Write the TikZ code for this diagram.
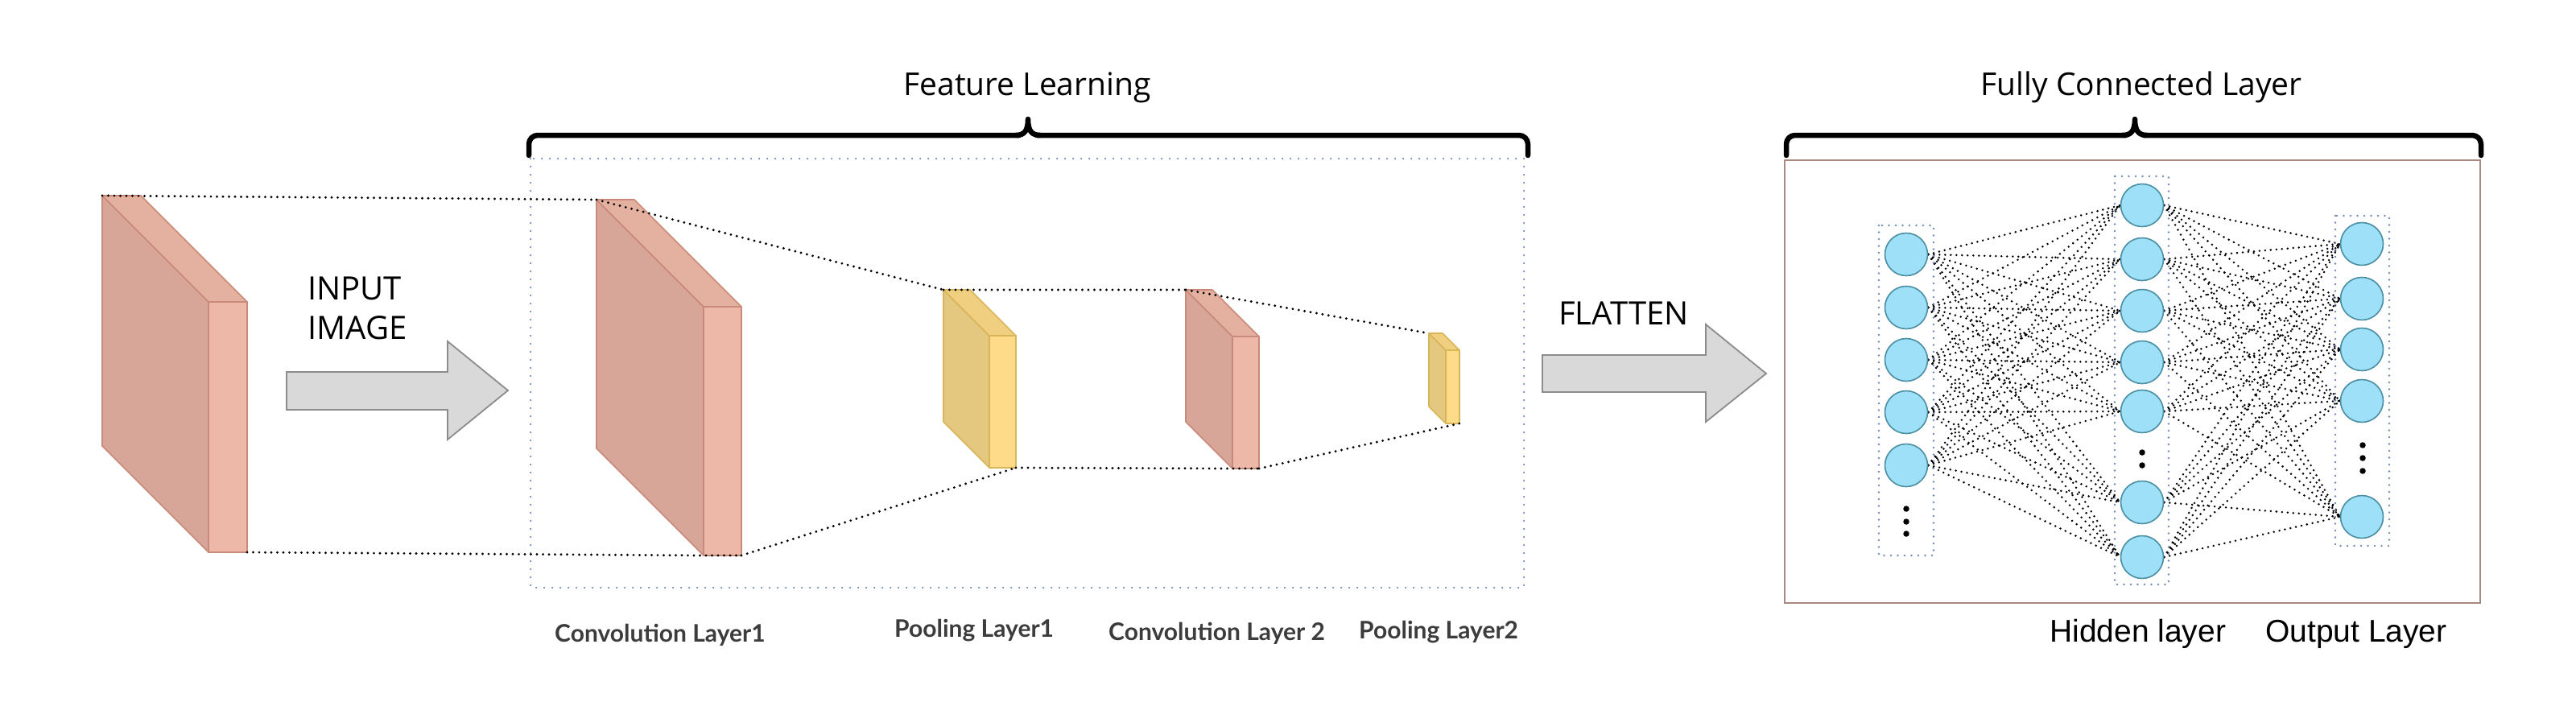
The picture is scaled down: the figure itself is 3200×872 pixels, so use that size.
\documentclass[tikz,border=0pt]{standalone}
\usepackage{fontspec}
\setmainfont{Open Sans}
\newfontfamily\latofont{Lato}
\newfontfamily\arialfont{Liberation Sans}
\definecolor{convside}{HTML}{D8A698}
\definecolor{convtop}{HTML}{E4B0A0}
\definecolor{convfront}{HTML}{EDB8A8}
\definecolor{convedge}{HTML}{C98A7A}
\definecolor{poolside}{HTML}{E5C87F}
\definecolor{pooltop}{HTML}{F0D080}
\definecolor{poolfront}{HTML}{FDDB88}
\definecolor{pooledge}{HTML}{D9B55A}
\definecolor{arrowfill}{HTML}{D9D9D9}
\definecolor{arrowedge}{HTML}{8C8C8C}
\definecolor{neuronfill}{HTML}{9EE0F7}
\definecolor{neuronedge}{HTML}{4A8FA3}
\definecolor{boxdots}{HTML}{6F89B8}
\definecolor{fcedge}{HTML}{A88A80}
\definecolor{labelgray}{HTML}{3C3C3C}
\pgfdeclarelayer{back}
\pgfdeclarelayer{bg}
\pgfsetlayers{back,bg,main}
\newcommand\slab[7]{%
  \coordinate (#1-btl) at (#2,#3);
  \coordinate (#1-btr) at ({#2+#5},#3);
  \coordinate (#1-ftl) at ({#2+#4},{#3+#4});
  \coordinate (#1-ftr) at ({#2+#4+#5},{#3+#4});
  \coordinate (#1-fbl) at ({#2+#4},{#3+#4+#6});
  \coordinate (#1-fbr) at ({#2+#4+#5},{#3+#4+#6});
  \coordinate (#1-bbl) at (#2,{#3+#6});
  \draw[#7 side] (#1-btl) -- (#1-ftl) -- (#1-fbl) -- (#1-bbl) -- cycle;
  \draw[#7 top] (#1-btl) -- (#1-btr) -- (#1-ftr) -- (#1-ftl) -- cycle;
  \draw[#7 front] (#1-ftl) rectangle (#1-fbr);
}
\begin{document}
\begin{tikzpicture}[x=1pt,y=-1pt,
  conv side/.style={fill=convside,draw=convedge,line width=1.6pt,line join=round},
  conv top/.style={fill=convtop,draw=convedge,line width=1.6pt,line join=round},
  conv front/.style={fill=convfront,draw=convedge,line width=1.6pt,line join=round},
  pool side/.style={fill=poolside,draw=pooledge,line width=1.6pt,line join=round},
  pool top/.style={fill=pooltop,draw=pooledge,line width=1.6pt,line join=round},
  pool front/.style={fill=poolfront,draw=pooledge,line width=1.6pt,line join=round},
  guide/.style={black,line width=3.2pt,line cap=round,dash pattern=on 0pt off 7.5pt},
  conn/.style={black,line width=2.8pt,line cap=round,dash pattern=on 0pt off 7pt},
  fbox/.style={boxdots,line width=2.5pt,line cap=round,dash pattern=on 0pt off 10pt},
  lbox/.style={boxdots,line width=2.6pt,line cap=round,dash pattern=on 0pt off 8.5pt},
  fcbox/.style={fcedge,line width=2pt},
  brace/.style={black,line width=6.5pt,line cap=round,line join=round},
  bigarrow/.style={fill=arrowfill,draw=arrowedge,line width=1.8pt,line join=miter},
  neuron/.style={circle,fill=neuronfill,draw=neuronedge,line width=1.6pt,minimum size=53pt,inner sep=0pt},
  vdot/.style={circle,fill=black,minimum size=7.5pt,inner sep=0pt},
  headtxt/.style={font=\fontsize{39}{47}\selectfont,inner sep=0pt},
  bigtxt/.style={font=\fontsize{40}{48}\selectfont,inner sep=0pt},
  layertxt/.style={font=\latofont\bfseries\fontsize{30}{36}\selectfont,text=labelgray,inner sep=0pt,anchor=base west},
  nntxt/.style={font=\arialfont\fontsize{39}{47}\selectfont,inner sep=0pt,anchor=base west},
]
\begin{pgfonlayer}{back}
\fill[white] (0,0) rectangle (3200,872);
\end{pgfonlayer}
\useasboundingbox (0,0) rectangle (3200,872);

% ---------- titles and brackets ----------
\node[headtxt,anchor=base] (featlbl) at (1276,118) {Feature Learning};
\node[headtxt,anchor=base] (fclbl) at (2660,118) {Fully Connected Layer};

\draw[brace,rounded corners=11pt] (657,193) -- (657,168) -- (1266,168);
\draw[brace] (1262,168) .. controls (1272,168) and (1277,163) .. (1277,148)
             .. controls (1277,163) and (1282,168) .. (1292,168);
\draw[brace,rounded corners=11pt] (1288,168) -- (1898,168) -- (1898,193);

\draw[brace,rounded corners=11pt] (2219,193) -- (2219,168) -- (2641,168);
\draw[brace] (2637,168) .. controls (2647,168) and (2652,163) .. (2652,148)
             .. controls (2652,163) and (2657,168) .. (2667,168);
\draw[brace,rounded corners=11pt] (2663,168) -- (3082,168) -- (3082,193);

% ---------- frames ----------
\draw[fbox] (659,197) rectangle (1893,730);
\draw[fcbox] (2217,199) rectangle (3081,749);

% ---------- feature maps ----------
\slab{in}{127}{243}{132}{48}{311}{conv}
\slab{cA}{741}{248}{133}{47}{309}{conv}
\slab{pA}{1172}{360}{57}{33}{164}{pool}
\slab{cB}{1473}{360}{58}{33}{164}{conv}
\slab{pB}{1775}{414}{21}{17}{91}{pool}

\draw[guide] (in-btl) -- (cA-btl);
\draw[guide] (in-fbr) -- (cA-fbl) -- (cA-fbr);
\draw[guide] (cA-btl) -- (pA-btl);
\draw[guide] (cA-fbr) -- (pA-fbr);
\draw[guide] (pA-btl) -- (cB-btl);
\draw[guide] (pA-fbr) -- (cB-fbl) -- (cB-fbr);
\draw[guide] (cB-btl) -- (pB-btl);
\draw[guide] (cB-fbr) -- (pB-fbr);

% ---------- big arrows ----------
\draw[bigarrow] (356,462) -- (556,462) -- (556,424) -- (631,485) -- (556,546) -- (556,509) -- (356,509) -- cycle;
\draw[bigarrow] (1916,441) -- (2119,441) -- (2119,403) -- (2194,464) -- (2119,524) -- (2119,487) -- (1916,487) -- cycle;

\node[bigtxt,anchor=base west] (inputlbl) at (382,372) {INPUT};
\node[bigtxt,anchor=base west] (imagelbl) at (382,421) {IMAGE};
\node[bigtxt,anchor=base west] (flatlbl) at (1936,403) {FLATTEN};

% ---------- layer labels ----------
\node[layertxt] (cAlbl) at (689,797) {Convolution Layer1};
\node[layertxt] (pAlbl) at (1111,791) {Pooling Layer1};
\node[layertxt] (cBlbl) at (1377,795) {Convolution Layer 2};
\node[layertxt] (pBlbl) at (1688,793) {Pooling Layer2};
\node[nntxt] (hidlbl) at (2546,797) {Hidden layer};
\node[nntxt] (outlbl) at (2814,797) {Output Layer};

% ---------- neural network ----------
\draw[lbox] (2334,280) rectangle (2402,690);
\draw[lbox] (2627,219) rectangle (2694,726);
\draw[lbox] (2901,268) rectangle (2968,678);

\foreach \y [count=\i] in {316,382,447,512,578}
  \node[neuron] (in\i) at (2368,\y) {};
\foreach \y [count=\i] in {255,322,386,450,511,624,692}
  \node[neuron] (hid\i) at (2661,\y) {};
\foreach \y [count=\i] in {303,371,434,498,642}
  \node[neuron] (out\i) at (2934,\y) {};

\foreach \y [count=\i] in {632,648,663}
  \node[vdot] (indot\i) at (2368,\y) {};
\foreach \y [count=\i] in {562,578}
  \node[vdot] (hiddot\i) at (2661,\y) {};
\foreach \y [count=\i] in {553,569,585}
  \node[vdot] (outdot\i) at (2935,\y) {};

\begin{pgfonlayer}{bg}
\foreach \i in {1,...,5}
  \foreach \j in {1,...,7}
    \draw[conn] (in\i.east) -- (hid\j.west);
\foreach \j in {1,...,7}
  \foreach \k in {1,...,5}
    \draw[conn] (hid\j.east) -- (out\k.west);
\end{pgfonlayer}
\end{tikzpicture}
\end{document}
